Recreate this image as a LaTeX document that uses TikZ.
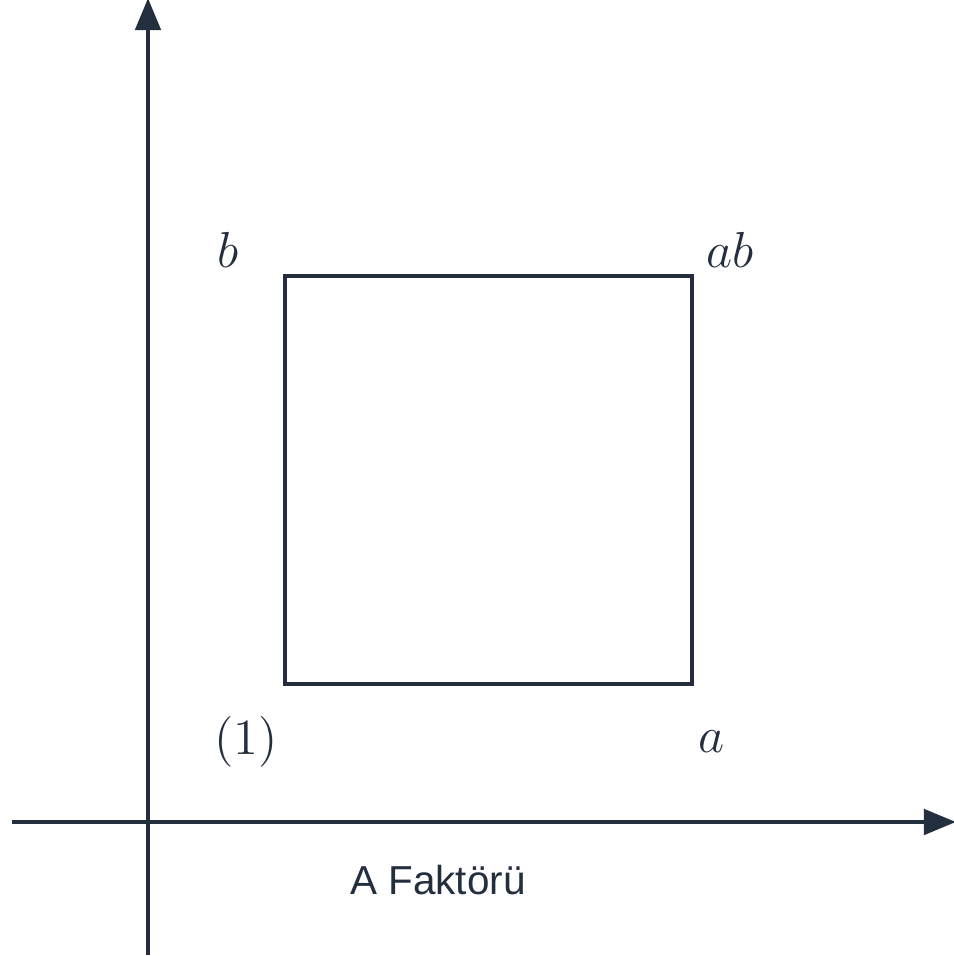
\documentclass[tikz,border=0pt]{standalone}
\usepackage{fontspec}
\usepackage{tikz}
\usetikzlibrary{arrows.meta,calc,positioning}
\newfontfamily\labelfont{Liberation Sans}
\definecolor{axdark}{RGB}{35,47,62}

\begin{document}
\begin{tikzpicture}[x=.01cm,y=.01cm,font=\fontsize{13.5}{16}\selectfont,
    >={Triangle[length=.32cm,width=.25cm]},
    axis/.style={->,axdark,line width=1.35pt},
    cube/.style={axdark,line width=1.35pt},
    corner/.style={axdark,inner sep=0pt}]
  \useasboundingbox (0,0) rectangle (954,956);
  % axes
  \coordinate (xs) at (12,134);
  \coordinate (xe) at (956,134);
  \coordinate (ys) at (148,1);
  \coordinate (ye) at (148,958);
  \draw[axis] (xs)--(xe);
  \draw[axis] (ys)--(ye);
  % design square
  \coordinate (p1) at (285,272);
  \coordinate (pa) at (692,272);
  \coordinate (pab) at (692,680);
  \coordinate (pb) at (285,680);
  \draw[cube] (p1)--(pa)--(pab)--(pb)--cycle;
  \node[corner] (l1) at (246,214) {$(1)$};
  \node[corner] (la) at (712,214) {$a$};
  \node[corner] (lb) at (228,706) {$b$};
  \node[corner] (lab) at (730,706) {$ab$};
  \node[corner,font=\labelfont\fontsize{11.5}{14}\selectfont] (fa) at (438,76) {A Faktörü};
\end{tikzpicture}
\end{document}
